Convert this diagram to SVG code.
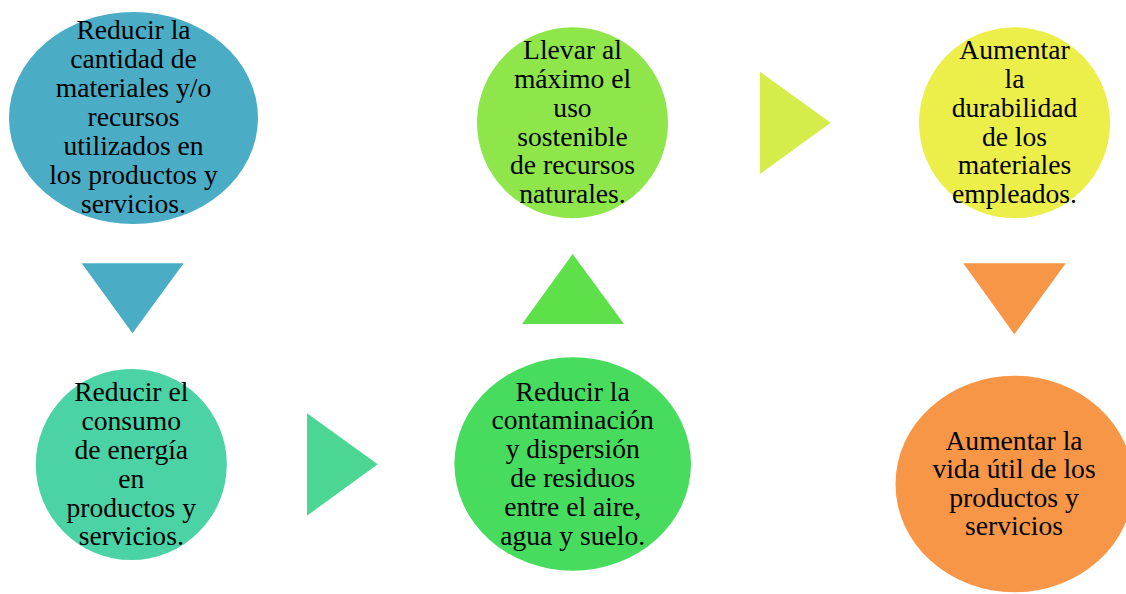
<svg xmlns="http://www.w3.org/2000/svg" width="1126" height="594" viewBox="0 0 1126 594">
<style>
text{font-family:"Liberation Serif","Times New Roman",serif;font-size:27.6px;fill:#000;text-anchor:middle}
</style>
<rect width="1126" height="594" fill="#fff"/>
<g id="node1">
<ellipse cx="133.5" cy="118" rx="124.5" ry="106" fill="#4BACC6"/>
<text><tspan x="133.5" y="39">Reducir la</tspan><tspan x="133.5" y="68">cantidad de</tspan><tspan x="133.5" y="97">materiales y/o</tspan><tspan x="133.5" y="126">recursos</tspan><tspan x="133.5" y="154.5">utilizados en</tspan><tspan x="133.5" y="183.5">los productos y</tspan><tspan x="133.5" y="212.5">servicios.</tspan></text>
</g>
<g id="node2">
<circle cx="131.3" cy="464.5" r="95.5" fill="#4BD2A5"/>
<text><tspan x="131.3" y="401">Reducir el</tspan><tspan x="131.3" y="430">consumo</tspan><tspan x="131.3" y="459">de energía</tspan><tspan x="131.3" y="488">en</tspan><tspan x="131.3" y="516.5">productos y</tspan><tspan x="131.3" y="545">servicios.</tspan></text>
</g>
<g id="node3">
<circle cx="572.5" cy="122.7" r="95.5" fill="#8EE64B"/>
<text><tspan x="572.5" y="59.3">Llevar al</tspan><tspan x="572.5" y="88.3">máximo el</tspan><tspan x="572.5" y="116.7">uso</tspan><tspan x="572.5" y="145.7">sostenible</tspan><tspan x="572.5" y="174.3">de recursos</tspan><tspan x="572.5" y="203.3">naturales.</tspan></text>
</g>
<g id="node4">
<ellipse cx="572.7" cy="464" rx="118.3" ry="106.7" fill="#48DC5E"/>
<text><tspan x="572.7" y="400.7">Reducir la</tspan><tspan x="572.7" y="429.3">contaminación</tspan><tspan x="572.7" y="458.3">y dispersión</tspan><tspan x="572.7" y="487.3">de residuos</tspan><tspan x="572.7" y="516">entre el aire,</tspan><tspan x="572.7" y="544.7">agua y suelo.</tspan></text>
</g>
<g id="node5">
<circle cx="1014.5" cy="122.8" r="95.5" fill="#ECEE4A"/>
<text><tspan x="1014.5" y="59.3">Aumentar</tspan><tspan x="1014.5" y="88.3">la</tspan><tspan x="1014.5" y="116.7">durabilidad</tspan><tspan x="1014.5" y="145.7">de los</tspan><tspan x="1014.5" y="174.3">materiales</tspan><tspan x="1014.5" y="203.3">empleados.</tspan></text>
</g>
<g id="node6">
<ellipse cx="1014.5" cy="484" rx="119" ry="108.3" fill="#F79646"/>
<text><tspan x="1014" y="450">Aumentar la</tspan><tspan x="1014" y="478.3">vida útil de los</tspan><tspan x="1014" y="506.7">productos y</tspan><tspan x="1014" y="535">servicios</tspan></text>
</g>
<g id="connectors">
<polygon points="81.7,263.3 183.7,263.3 132.5,333.3" fill="#4BACC6"/>
<polygon points="307,413.3 377.7,464.3 307,515.7" fill="#4BD693"/>
<polygon points="522,324 572.7,254 624,324" fill="#5EE04A"/>
<polygon points="760,71.7 830.7,122.7 760,174" fill="#D5EC4A"/>
<polygon points="963.3,263.3 1065.7,263.3 1014.3,334.3" fill="#F79646"/>
</g>
</svg>
